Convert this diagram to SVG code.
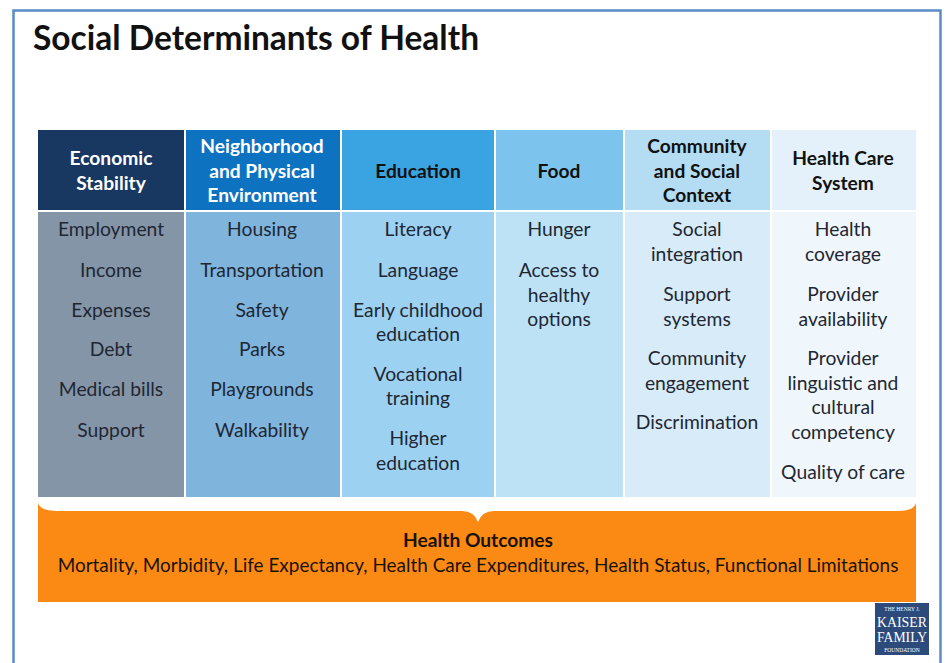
<svg xmlns="http://www.w3.org/2000/svg" width="946" height="663" viewBox="0 0 946 663">
<style>
.hd{font-family:Lato,"Open Sans",sans-serif;font-weight:bold;font-size:19.2px;text-anchor:middle}
.bd{font-family:Lato,"Open Sans",sans-serif;font-size:19.3px;fill:#1e2733;text-anchor:middle}
.w{fill:#ffffff}
.k{fill:#111111}
.lg{font-family:"Liberation Serif",serif;fill:#ffffff;text-anchor:middle}
</style>
<rect x="0" y="0" width="946" height="663" fill="#ffffff"/>
<rect x="13.5" y="10.5" width="927" height="680" fill="none" stroke="#5a8dc8" stroke-width="2.5"/>
<text x="33" y="50" font-family="Lato,'Open Sans',sans-serif" font-weight="bold" font-size="33.5" fill="#111111">Social Determinants of Health</text>

<g id="col-economic">
<rect x="38" y="130" width="146" height="80" fill="#183862"/>
<rect x="38" y="212" width="146" height="285" fill="#8595a8"/>
<text class="hd w" x="111" y="165">Economic</text>
<text class="hd w" x="111" y="190">Stability</text>
<text class="bd" x="111" y="236">Employment</text>
<text class="bd" x="111" y="277">Income</text>
<text class="bd" x="111" y="317">Expenses</text>
<text class="bd" x="111" y="356">Debt</text>
<text class="bd" x="111" y="396">Medical bills</text>
<text class="bd" x="111" y="437">Support</text>
</g>

<g id="col-neighborhood">
<rect x="186" y="130" width="154" height="80" fill="#0d72c0"/>
<rect x="186" y="212" width="154" height="285" fill="#7fb4dd"/>
<text class="hd w" x="262" y="153">Neighborhood</text>
<text class="hd w" x="262" y="178">and Physical</text>
<text class="hd w" x="262" y="202">Environment</text>
<text class="bd" x="262" y="236">Housing</text>
<text class="bd" x="262" y="277">Transportation</text>
<text class="bd" x="262" y="317">Safety</text>
<text class="bd" x="262" y="356">Parks</text>
<text class="bd" x="262" y="396">Playgrounds</text>
<text class="bd" x="262" y="437">Walkability</text>
</g>

<g id="col-education">
<rect x="342" y="130" width="152" height="80" fill="#3aa4e2"/>
<rect x="342" y="212" width="152" height="285" fill="#9dd1f1"/>
<text class="hd k" x="418" y="178">Education</text>
<text class="bd" x="418" y="236">Literacy</text>
<text class="bd" x="418" y="277">Language</text>
<text class="bd" x="418" y="317">Early childhood</text>
<text class="bd" x="418" y="341">education</text>
<text class="bd" x="418" y="381">Vocational</text>
<text class="bd" x="418" y="405">training</text>
<text class="bd" x="418" y="445">Higher</text>
<text class="bd" x="418" y="470">education</text>
</g>

<g id="col-food">
<rect x="496" y="130" width="127" height="80" fill="#7cc4ed"/>
<rect x="496" y="212" width="127" height="285" fill="#bde2f6"/>
<text class="hd k" x="559" y="178">Food</text>
<text class="bd" x="559" y="236">Hunger</text>
<text class="bd" x="559" y="277">Access to</text>
<text class="bd" x="559" y="302">healthy</text>
<text class="bd" x="559" y="326">options</text>
</g>

<g id="col-community">
<rect x="625" y="130" width="145" height="80" fill="#b4dcf3"/>
<rect x="625" y="212" width="145" height="285" fill="#d8ebf8"/>
<text class="hd k" x="697" y="153">Community</text>
<text class="hd k" x="697" y="178">and Social</text>
<text class="hd k" x="697" y="202">Context</text>
<text class="bd" x="697" y="236">Social</text>
<text class="bd" x="697" y="261">integration</text>
<text class="bd" x="697" y="301">Support</text>
<text class="bd" x="697" y="326">systems</text>
<text class="bd" x="697" y="365">Community</text>
<text class="bd" x="697" y="390">engagement</text>
<text class="bd" x="697" y="429">Discrimination</text>
</g>

<g id="col-healthcare">
<rect x="772" y="130" width="144" height="80" fill="#e4f1fa"/>
<rect x="772" y="212" width="144" height="285" fill="#f0f7fc"/>
<text class="hd k" x="843" y="165">Health Care</text>
<text class="hd k" x="843" y="190">System</text>
<text class="bd" x="843" y="236">Health</text>
<text class="bd" x="843" y="261">coverage</text>
<text class="bd" x="843" y="301">Provider</text>
<text class="bd" x="843" y="326">availability</text>
<text class="bd" x="843" y="365">Provider</text>
<text class="bd" x="843" y="390">linguistic and</text>
<text class="bd" x="843" y="414">cultural</text>
<text class="bd" x="843" y="439">competency</text>
<text class="bd" x="843" y="479">Quality of care</text>
</g>

<g id="health-outcomes">
<path d="M38,503 Q40,511 58,511 L462,511 Q474,511 478,522 Q482,511 494,511 L898,511 Q914,511 916,503 L916,602 L38,602 Z" fill="#fb8a15"/>
<text class="hd" x="478" y="547" fill="#1a1206">Health Outcomes</text>
<text x="478" y="572" font-family="Lato,'Open Sans',sans-serif" font-size="18.95" fill="#1a1206" text-anchor="middle">Mortality, Morbidity, Life Expectancy, Health Care Expenditures, Health Status, Functional Limitations</text>
</g>

<g id="logo">
<rect x="875" y="603" width="54" height="52" fill="#2c4a7a"/>
<text class="lg" x="902" y="611" font-size="5.5">THE HENRY J.</text>
<text class="lg" x="902" y="627" font-size="14" textLength="50" lengthAdjust="spacingAndGlyphs">KAISER</text>
<text class="lg" x="902" y="642" font-size="14" textLength="50" lengthAdjust="spacingAndGlyphs">FAMILY</text>
<text class="lg" x="902" y="652" font-size="5.5">FOUNDATION</text>
</g>
<g id="connectors"></g>
</svg>
